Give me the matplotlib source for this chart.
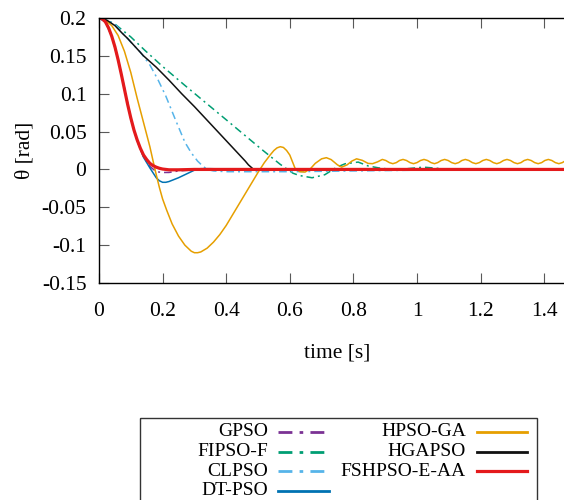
import matplotlib
matplotlib.use("Agg")
import matplotlib.pyplot as plt
from matplotlib.ticker import FormatStrFormatter

plt.rcParams['font.family'] = ['Liberation Serif', 'DejaVu Serif']
plt.rcParams['axes.unicode_minus'] = False

# pendulum angle responses, theta [rad] vs time [s]
t_gpso = [0, 0.02, 0.04, 0.06, 0.08, 0.10, 0.12, 0.14, 0.16, 0.18, 0.20, 0.22, 0.25, 0.30, 0.40, 1.50]
th_gpso = [0.2, 0.195, 0.176, 0.146, 0.108, 0.068, 0.038, 0.017, 0.004, -0.003, -0.004, -0.004, -0.002, -0.0005, 0, 0]

t_fipso = [0, 0.025, 0.05, 0.10, 0.145, 0.20, 0.27, 0.33, 0.396, 0.453, 0.51, 0.569, 0.61, 0.63, 0.67,
           0.71, 0.748, 0.774, 0.815, 0.847, 0.88, 0.92, 0.97, 1.02, 1.05, 1.10, 1.50]
th_fipso = [0.2, 0.197, 0.192, 0.175, 0.157, 0.136, 0.111, 0.090, 0.067, 0.047, 0.027, 0.007, -0.005, -0.008, -0.011,
            -0.007, 0.003, 0.0075, 0.0097, 0.0045, 0.002, 0.0, 0.001, 0.003, 0.002, 0.0, 0.0]

t_clpso = [0, 0.025, 0.05, 0.10, 0.13, 0.16, 0.186, 0.21, 0.24, 0.27, 0.29, 0.31, 0.325, 0.34, 0.36, 0.40,
           0.60, 0.80, 1.00, 1.50]
th_clpso = [0.2, 0.197, 0.192, 0.168, 0.155, 0.138, 0.118, 0.097, 0.066, 0.036, 0.022, 0.011, 0.005, 0.0, -0.002, -0.003,
            -0.003, -0.002, -0.001, -0.001]

t_dtpso = [0, 0.02, 0.04, 0.06, 0.08, 0.10, 0.12, 0.14, 0.16, 0.18, 0.19, 0.20, 0.21, 0.22, 0.25, 0.28,
           0.30, 0.32, 0.35, 0.40, 0.50, 1.50]
th_dtpso = [0.2, 0.195, 0.176, 0.145, 0.106, 0.067, 0.038, 0.016, 0.002, -0.011, -0.015, -0.017, -0.017, -0.016, -0.011, -0.005,
            -0.001, 0.001, 0.001, 0.0005, 0, 0]

t_hpsoga = [0, 0.02, 0.04, 0.06, 0.08, 0.10, 0.12, 0.14, 0.16, 0.176, 0.19, 0.20, 0.213, 0.23, 0.25, 0.27,
            0.29, 0.30, 0.31, 0.32, 0.34, 0.36, 0.38, 0.40, 0.42, 0.44, 0.46, 0.48, 0.50, 0.52, 0.54,
            0.55, 0.56, 0.57, 0.58, 0.59, 0.60,
            0.617, 0.632, 0.648, 0.665, 0.68, 0.70, 0.715, 0.73, 0.75, 0.763, 0.78, 0.795, 0.81, 0.828, 0.846,
            0.86, 0.876,
            0.891, 0.902, 0.913, 0.924, 0.935, 0.945,
            0.956, 0.967, 0.978, 0.989, 1.000, 1.011,
            1.022, 1.033, 1.044, 1.055, 1.065, 1.076,
            1.087, 1.098, 1.109, 1.120, 1.131, 1.141,
            1.152, 1.163, 1.174, 1.185, 1.196, 1.207,
            1.218, 1.229, 1.240, 1.251, 1.261, 1.272,
            1.283, 1.294, 1.305, 1.316, 1.327, 1.337,
            1.348, 1.359, 1.370, 1.381, 1.392, 1.402,
            1.413, 1.424, 1.435, 1.446, 1.457, 1.468,
            1.479, 1.490, 1.500]
th_hpsoga = [0.2, 0.197, 0.19, 0.177, 0.156, 0.128, 0.094, 0.062, 0.030, 0.0, -0.024, -0.039, -0.054, -0.072, -0.088, -0.100,
             -0.108, -0.110, -0.110, -0.109, -0.104, -0.096, -0.086, -0.074, -0.060, -0.046, -0.032, -0.018, -0.004, 0.009, 0.020,
             0.025, 0.0285, 0.030, 0.029, 0.025, 0.019,
             0.001, -0.003, -0.0035, 0.001, 0.008, 0.014, 0.0155, 0.013, 0.006, 0.003, 0.006, 0.011, 0.014, 0.012, 0.008,
             0.0076, 0.010,
             0.0132, 0.0118, 0.0090, 0.0076, 0.0090, 0.0118,
             0.0132, 0.0118, 0.0090, 0.0076, 0.0090, 0.0118,
             0.0132, 0.0118, 0.0090, 0.0076, 0.0090, 0.0118,
             0.0132, 0.0118, 0.0090, 0.0076, 0.0090, 0.0118,
             0.0132, 0.0118, 0.0090, 0.0076, 0.0090, 0.0118,
             0.0132, 0.0118, 0.0090, 0.0076, 0.0090, 0.0118,
             0.0132, 0.0118, 0.0090, 0.0076, 0.0090, 0.0118,
             0.0132, 0.0118, 0.0090, 0.0076, 0.0090, 0.0118,
             0.0132, 0.0118, 0.0090, 0.0076, 0.0090, 0.0118,
             0.0132, 0.0118, 0.0090]

t_hgapso = [0, 0.025, 0.05, 0.075, 0.09, 0.14, 0.18, 0.22, 0.26, 0.30, 0.34, 0.38, 0.42, 0.46, 0.47, 0.485, 0.50, 1.50]
th_hgapso = [0.2, 0.197, 0.19, 0.179, 0.173, 0.150, 0.135, 0.118, 0.100, 0.083, 0.065, 0.047, 0.029, 0.011, 0.006, 0.0005, 0, 0]

t_fsh = [0, 0.01, 0.02, 0.03, 0.04, 0.05, 0.06, 0.07, 0.08, 0.09, 0.10, 0.11, 0.12, 0.13, 0.14, 0.15,
         0.16, 0.17, 0.18, 0.19, 0.20, 0.22, 0.25, 0.30, 0.40, 1.50]
th_fsh = [0.2, 0.199, 0.195, 0.187, 0.176, 0.162, 0.145, 0.126, 0.106, 0.086, 0.068, 0.052, 0.039, 0.028, 0.019, 0.013,
          0.008, 0.005, 0.003, 0.0015, 0.0005, -0.0005, -0.0005, 0, 0, 0]

dashdot = (0, (5, 2.6, 1.3, 2.6))
series = [
    ("GPSO", t_gpso, th_gpso, "#7b3294", dashdot, 1.1),
    ("FIPSO-F", t_fipso, th_fipso, "#009e73", dashdot, 1.1),
    ("CLPSO", t_clpso, th_clpso, "#56b4e9", dashdot, 1.1),
    ("DT-PSO", t_dtpso, th_dtpso, "#0072b2", "-", 1.1),
    ("HPSO-GA", t_hpsoga, th_hpsoga, "#e69f00", "-", 1.1),
    ("HGAPSO", t_hgapso, th_hgapso, "#111111", "-", 1.1),
    ("FSHPSO-E-AA", t_fsh, th_fsh, "#e41a1c", "-", 2.3),
]

fig = plt.figure(figsize=(5.64, 5.0), dpi=100)
# plot area runs to t=1.5, a bit past the right edge of the canvas
ax = fig.add_axes([99 / 564, 217 / 500, 477 / 564, 265 / 500])

for name, t, th, color, ls, lw in series:
    ax.plot(t, th, color=color, linestyle=ls, linewidth=lw)

ax.set_xlim(0, 1.5)
ax.set_ylim(-0.15, 0.2)
ax.set_xticks([0, 0.2, 0.4, 0.6, 0.8, 1.0, 1.2, 1.4])
ax.set_yticks([-0.15, -0.1, -0.05, 0, 0.05, 0.1, 0.15, 0.2])
ax.xaxis.set_major_formatter(FormatStrFormatter('%g'))
ax.yaxis.set_major_formatter(FormatStrFormatter('%g'))
ax.tick_params(direction='in', length=7, width=0.8, color='0.35', labelsize=15.5,
               top=True, right=True)
ax.tick_params(axis='x', pad=14)
ax.tick_params(axis='y', pad=9)
for s in ax.spines.values():
    s.set_linewidth(1.0)
ax.set_xlabel("time [s]", fontsize=15.5, labelpad=16)
ax.set_ylabel("θ [rad]", fontsize=15.5, labelpad=5)

# key box below the plot, drawn in pixel coordinates
lax = fig.add_axes([0, 0, 1, 1])
lax.set_xlim(0, 564)
lax.set_ylim(500, 0)
lax.axis('off')
lax.add_patch(plt.Rectangle((140, 418), 397, 100, fill=False, edgecolor='0.2', linewidth=1.0))
col_x = [(268, 278, 329), (466, 477, 527)]
row_y = [432, 451.5, 471, 490.5]
for i, (name, t, th, color, ls, lw) in enumerate(series):
    col, row = divmod(i, 4)
    tx, x0, x1 = col_x[col]
    y = row_y[row]
    lax.text(tx, y, name, ha='right', va='center', fontsize=14)
    lax.plot([x0, x1], [y, y], color=color, linestyle=ls, linewidth=max(lw, 2.0))

fig.savefig("out.png", dpi=100)
